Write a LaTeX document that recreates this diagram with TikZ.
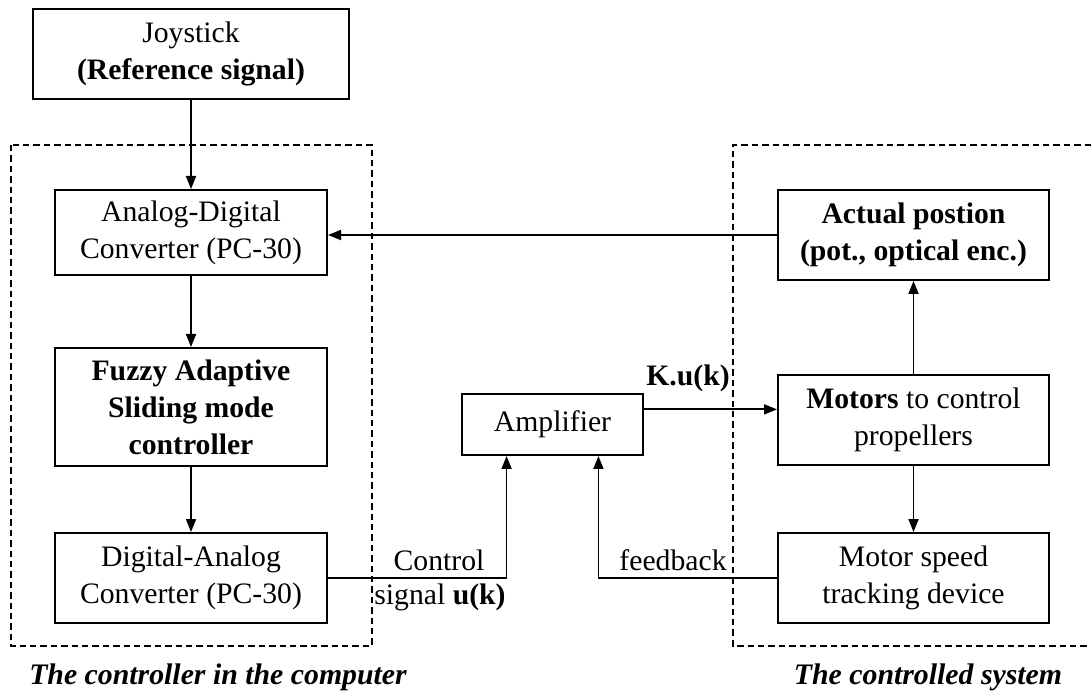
\documentclass[tikz,border=0pt]{standalone}
\usepackage{fontspec}
\setmainfont{Liberation Serif}
\usetikzlibrary{positioning,arrows.meta,calc}
\tikzset{
  blockbox/.style={draw, line width=1pt, align=center, inner sep=0pt,
    font=\fontsize{14.85}{18.5}\selectfont},
  flow/.style={-{Triangle[length=6.5pt,width=5pt]}, line width=0.9pt},
  groupbox/.style={dash pattern=on 3.2pt off 2pt, line width=0.9pt},
  tag/.style={inner sep=0pt, font=\fontsize{14.85}{18.5}\selectfont},
  caption/.style={inner sep=0pt, font=\fontsize{14.9}{18}\selectfont\bfseries\itshape}
}
\begin{document}
\begin{tikzpicture}[x=0.5pt,y=-0.5pt]
    \useasboundingbox (0,0) rectangle (1091,694);
    % dashed groups
    \draw[groupbox] (11,145) rectangle (372,646);
    \draw[groupbox] (1091,145) -- (733,145) -- (733,646) -- (1091,646);
    % computer side
    \node[blockbox, minimum width=158pt, minimum height=45pt] (joy) at (191,54) {Joystick\\\textbf{(Reference signal)}};
    \node[blockbox, minimum width=136pt, minimum height=42.5pt] (adc) at (191,232.5) {Analog-Digital\\Converter (PC-30)};
    \node[blockbox, minimum width=136pt, minimum height=59pt] (fasmc) at (191,407) {\textbf{Fuzzy Adaptive}\\\textbf{Sliding mode}\\\textbf{controller}};
    \node[blockbox, minimum width=136pt, minimum height=45pt] (dac) at (191,578) {Digital-Analog\\Converter (PC-30)};
    \node[blockbox, minimum width=90.5pt, minimum height=30.5pt] (amp) at (552.5,424.5) {Amplifier};
    % controlled system
    \node[blockbox, minimum width=135.5pt, minimum height=45pt] (pos) at (913.5,235) {\textbf{Actual postion}\\\textbf{(pot., optical enc.)}};
    \node[blockbox, minimum width=135.5pt, minimum height=45pt] (motors) at (913.5,420) {\textbf{Motors} to control\\propellers};
    \node[blockbox, minimum width=135.5pt, minimum height=45pt] (speed) at (913.5,578) {Motor speed\\tracking device};
    % labels
    \node[tag] (ctrl) at (439,560) {Control};
    \node[tag] (sig) at (440,597) {signal \textbf{u(k)}};
    \node[tag] (fb) at (673,560) {feedback};
    \node[tag, font=\fontsize{14.85}{18.5}\selectfont\bfseries] (gain) at (688,378) {K.u(k)};
    \node[caption] (capl) at (218,677) {The controller in the computer};
    \node[caption] (capr) at (928,677) {The controlled system};
    % connectors
    \coordinate (uin) at ($(amp.south west)!0.249!(amp.south east)$);
    \coordinate (fbin) at ($(amp.south west)!0.751!(amp.south east)$);
    \coordinate (kout) at ($(amp.north east)!0.26!(amp.south east)$);
    \draw[flow] (joy) -- (adc);
    \draw[flow] (adc) -- (fasmc);
    \draw[flow] (fasmc) -- (dac);
    \draw[flow] (pos.west) -- (pos.west -| adc.east);
    \draw[flow] (dac.east) -| (uin);
    \draw[flow] (speed.west) -| (fbin);
    \draw[flow] (kout) -- (kout -| motors.west);
    \draw[flow] (motors) -- (pos);
    \draw[flow] (motors) -- (speed);
\end{tikzpicture}
\end{document}
